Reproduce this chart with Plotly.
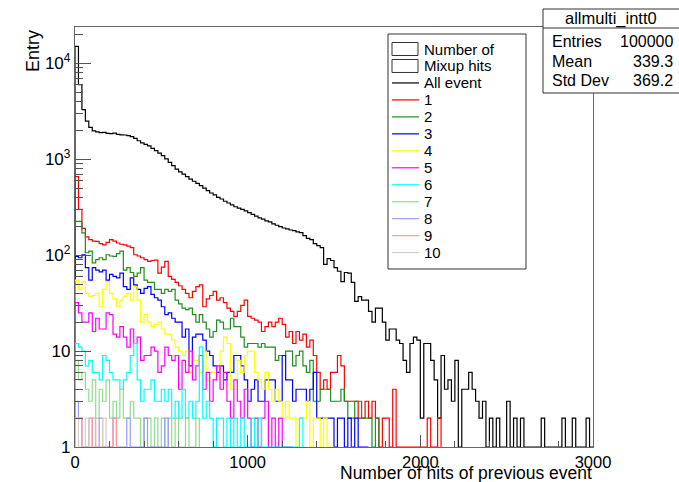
import plotly.graph_objects as go

# ---- histogram binning (150 bins of 20 hits over 0..3000) ----
BIN_W = 20
X_MAX = 3000

# ---- bin contents ----
all_event = [
    15000, 6000, 3300, 2500, 2150, 1980, 1930, 1900, 1910, 1860,
    1850, 1870, 1820, 1800, 1790, 1760, 1720, 1650, 1560, 1480,
    1430, 1380, 1300, 1230, 1160, 1090, 1010, 930, 860, 790,
    740, 700, 660, 620, 590, 560, 530, 500, 470, 445,
    425, 400, 385, 365, 350, 335, 320, 310, 300, 290,
    278, 266, 255, 245, 238, 228, 222, 212, 205, 198,
    192, 188, 183, 180, 175, 172, 160, 150, 145, 132,
    126, 120, 80, 92, 88, 74, 68, 53, 66, 65,
    52, 33, 37, 34, 34, 26, 20, 28, 28, 20,
    13, 17, 17, 13, 12, 8, 6, 12, 14, 13,
    2, 12, 12, 8, 5, 2, 9, 4, 5, 3,
    8, 1, 4, 4, 6, 4, 3, 2, 3, 1,
    2, 1, 2, 1, 0, 3, 1, 2, 0, 2,
    1, 0, 1, 0, 0, 2, 0, 1, 0, 0,
    1, 2, 0, 0, 2, 0, 1, 0, 2, 0,
]

mix_1 = [
    660, 300, 190, 155, 145, 140, 139, 132, 128, 136,
    145, 140, 134, 130, 128, 124, 120, 101, 98, 94,
    90, 86, 88, 89, 65, 75, 86, 60, 56, 52,
    48, 44, 40, 36, 42, 47, 49, 29, 35, 38,
    42, 34, 36, 32, 28, 26, 23, 26, 30, 34,
    23, 22, 21, 20, 16, 18, 20, 18, 20, 22,
    19, 14, 16, 12, 16, 13, 15, 11, 13, 9,
    6, 4, 5, 4, 6, 6, 9, 7, 3, 3,
    3, 3, 2, 2, 3, 2, 3, 2, 1, 2,
    2, 0, 4, 0, 0, 0, 0, 0, 0, 0,
    0, 0, 2, 0, 0, 2,
]

mix_2 = [
    225, 225, 171, 106, 110, 83, 90, 94, 90, 101,
    98, 97, 104, 110, 70, 74, 66, 60, 65, 74,
    55, 52, 52, 44, 44, 40, 44, 42, 44, 34,
    31, 28, 27, 28, 24, 20, 24, 20, 17, 14,
    16, 21, 20, 17, 17, 22, 18, 18, 14, 11,
    12, 12, 12, 11, 12, 11, 11, 11, 8, 9,
    9, 10, 10, 7, 9, 10, 7, 6, 8, 3,
    3, 4, 4, 4, 3, 3, 3, 4, 3, 2,
    2, 3, 3, 2, 2, 2, 1, 2,
]

mix_3 = [
    97, 94, 101, 74, 55, 74, 70, 67, 70, 55,
    63, 60, 58, 65, 47, 44, 58, 49, 44, 40,
    45, 47, 39, 36, 34, 29, 24, 25, 22, 20,
    20, 14, 17, 7, 14, 15, 15, 13, 10, 9,
    7, 6, 7, 5, 6, 6, 9, 9, 7, 5,
    3, 4, 5, 3, 3, 5, 5, 5, 3, 3,
    9, 5, 5, 3, 4, 4, 4, 3, 4, 6,
    2, 2, 2, 2, 2, 1, 2, 2, 1, 2,
    1, 2, 0, 0, 1,
]

mix_4 = [
    55, 44, 53, 40, 37, 38, 40, 29, 44, 53,
    40, 35, 29, 34, 37, 40, 34, 47, 34, 20,
    24, 20, 18, 19, 20, 17, 15, 15, 13, 11,
    10, 9, 10, 6, 8, 8, 6, 10, 5, 6,
    6, 5, 10, 14, 12, 4, 4, 8, 6, 9,
    10, 10, 6, 5, 4, 6, 4, 3, 4, 3,
    2, 3, 2, 2, 1, 2, 2, 3, 1, 2,
    2, 1, 2, 0, 1,
]

mix_5 = [
    32, 25, 20, 20, 25, 16, 22, 17, 17, 25,
    24, 15, 14, 18, 14, 11, 17, 12, 14, 8,
    9, 9, 11, 10, 6, 7, 11, 9, 8, 9,
    4, 8, 6, 10, 5, 7, 9, 4, 6, 3,
    5, 7, 4, 6, 3, 2, 5, 3, 2, 4,
    2, 1, 2, 1, 2, 3, 1, 2, 0, 2,
    1, 0, 1,
]

mix_6 = [
    12, 11, 10, 7, 8, 6, 6, 5, 9, 8,
    6, 5, 5, 4, 5, 6, 9, 12, 5, 3,
    4, 4, 5, 3, 3, 4, 3, 4, 2, 3,
    2, 4, 2, 3, 2, 3, 11, 2, 3, 2,
    1, 2, 2, 1, 2, 0, 2, 1, 2, 0,
    1, 2, 0, 2, 0, 0, 0, 0, 0, 0,
    0, 0, 0, 0, 0, 2,
]

mix_7 = [
    8, 5, 6, 4, 3, 5, 2, 4, 3, 5,
    2, 3, 2, 4, 2, 2, 3, 2, 2, 1,
    2, 2, 1, 2, 0, 2, 1, 2, 1, 2,
    0, 1, 2, 0, 1, 2,
]

mix_8 = [
    3, 2, 0, 1, 2, 0, 1, 2, 0, 0,
    1, 2, 0, 1, 0, 2, 0, 0, 1, 0,
    2, 0, 0, 1, 0, 0, 2,
]

mix_9 = [
    2, 2, 1, 0, 1, 2, 0, 0, 1, 0,
    0, 2,
]

mix_10 = [
    2, 1, 0, 2, 0, 1, 0, 0, 2,
]

series_names = ["All event", "1", "2", "3", "4", "5", "6", "7", "8", "9", "10"]
series_data = [all_event, mix_1, mix_2, mix_3, mix_4, mix_5,
               mix_6, mix_7, mix_8, mix_9, mix_10]
series_colors = ["#000000", "#ff0000", "#1f8f1f", "#0000ff", "#ffff00",
                 "#ff00ff", "#00ffff", "#8fdc8f", "#9a9aff", "#ff9a9a", "#d8cec6"]

stats_title = "allmulti_intt0"
stats_rows = [("Entries", "100000"), ("Mean", "339.3"), ("Std Dev", "369.2")]
legend_header = ["Number of", "Mixup hits"]

x_title = "Number of hits of previous event"
y_title = "Entry"
x_ticks = [0, 1000, 2000, 3000]
y_ticks = [1, 10, 100, 1000, 10000]
y_ticktext = ["1", "10", "10<sup>2</sup>", "10<sup>3</sup>", "10<sup>4</sup>"]

FONT = "Liberation Sans, Arial, sans-serif"
FLOOR = 1  # lowest value shown on the log axis

# ---- page geometry (pixels) ----
W, H = 679, 482
L, R, T, B = 75, 593, 27, 447


def px(x):
    return (x - L) / (R - L)


def py(y):
    return (B - y) / (B - T)


fig = go.Figure()

for name, counts, color in zip(series_names, series_data, series_colors):
    n = len(counts)
    xs = [0] + [BIN_W * i for i in range(n)] + [BIN_W * n]
    ys = [FLOOR] + [max(c, FLOOR) for c in counts] + [FLOOR]
    fig.add_trace(go.Scatter(
        x=xs, y=ys, mode="lines", name=name,
        line=dict(color=color, width=1.2, shape="hv"),
        showlegend=False, hoverinfo="skip",
    ))

minor_vals = [m * 10 ** d for d in range(0, 5) for m in range(2, 10)]

fig.update_layout(
    width=W, height=H,
    margin=dict(l=L, r=W - R, t=T, b=H - B),
    paper_bgcolor="white", plot_bgcolor="white",
    font=dict(family=FONT, color="black"),
    xaxis=dict(
        range=[0, X_MAX], showgrid=False, zeroline=False,
        showline=True, linecolor="#666", linewidth=1.3, mirror=True,
        ticks="inside", ticklen=12, tickcolor="#555",
        tickvals=x_ticks, ticktext=[str(v) for v in x_ticks],
        tickfont=dict(size=16.5, family=FONT),
        minor=dict(ticks="inside", ticklen=6, tickcolor="#555",
                   tickvals=list(range(0, X_MAX + 1, 200))),
    ),
    yaxis=dict(
        type="log", range=[0, 4.379], showgrid=False, zeroline=False,
        showline=True, linecolor="#666", linewidth=1.3, mirror=True,
        ticks="inside", ticklen=16, tickcolor="#555",
        tickvals=y_ticks, ticktext=y_ticktext,
        tickfont=dict(size=17, family=FONT),
        minor=dict(ticks="inside", ticklen=8, tickcolor="#555",
                   tickvals=minor_vals),
    ),
)

shapes = []
annotations = []

# axis titles
annotations.append(dict(
    text=x_title, xref="paper", yref="paper", x=px(R), y=py(472.5),
    xanchor="right", yanchor="middle", showarrow=False, borderpad=0,
    font=dict(size=17.5, family=FONT)))
annotations.append(dict(
    text=y_title, xref="paper", yref="paper", x=px(33), y=py(28),
    xanchor="center", yanchor="top", textangle=-90, showarrow=False,
    font=dict(size=18, family=FONT)))

# legend box
LG_L, LG_R, LG_T, LG_B = 388, 526, 34, 269
shapes.append(dict(type="rect", xref="paper", yref="paper",
                   x0=px(LG_L), x1=px(LG_R), y0=py(LG_B), y1=py(LG_T),
                   line=dict(color="#333", width=1), fillcolor="white", layer="above"))
ROW0, ROW_DY = 49, 16.97
rows = legend_header + series_names
for k, label in enumerate(rows):
    yc = ROW0 + ROW_DY * k
    if k < len(legend_header):
        shapes.append(dict(type="rect", xref="paper", yref="paper",
                           x0=px(392), x1=px(418), y0=py(yc + 6.5), y1=py(yc - 6.5),
                           line=dict(color="#333", width=1), fillcolor="white", layer="above"))
    else:
        color = series_colors[k - len(legend_header)]
        shapes.append(dict(type="line", xref="paper", yref="paper",
                           x0=px(392), x1=px(419), y0=py(yc), y1=py(yc),
                           line=dict(color=color, width=1.2), layer="above"))
    annotations.append(dict(
        text=label, xref="paper", yref="paper", x=px(422), y=py(yc),
        xanchor="left", yanchor="middle", showarrow=False,
        font=dict(size=15, family=FONT)))

# statistics box
ST_L, ST_R, ST_T, ST_SEP, ST_B = 543, 690, 9, 28, 93
shapes.append(dict(type="rect", xref="paper", yref="paper",
                   x0=px(ST_L), x1=px(ST_R), y0=py(ST_B), y1=py(ST_T),
                   line=dict(color="#333", width=1), fillcolor="white", layer="above"))
shapes.append(dict(type="line", xref="paper", yref="paper",
                   x0=px(ST_L), x1=px(ST_R), y0=py(ST_SEP), y1=py(ST_SEP),
                   line=dict(color="#333", width=1), layer="above"))
annotations.append(dict(
    text=stats_title, xref="paper", yref="paper", x=px(611), y=py(18.5),
    xanchor="center", yanchor="middle", showarrow=False,
    font=dict(size=16.5, family=FONT)))
for k, (lab, val) in enumerate(stats_rows):
    yc = 41.5 + 19.7 * k
    annotations.append(dict(
        text=lab, xref="paper", yref="paper", x=px(550), y=py(yc),
        xanchor="left", yanchor="middle", showarrow=False,
        font=dict(size=16, family=FONT)))
    annotations.append(dict(
        text=val, xref="paper", yref="paper", x=px(675), y=py(yc),
        xanchor="right", yanchor="middle", showarrow=False,
        font=dict(size=16, family=FONT)))

fig.update_layout(shapes=shapes, annotations=annotations)
fig.write_html("out.html")
